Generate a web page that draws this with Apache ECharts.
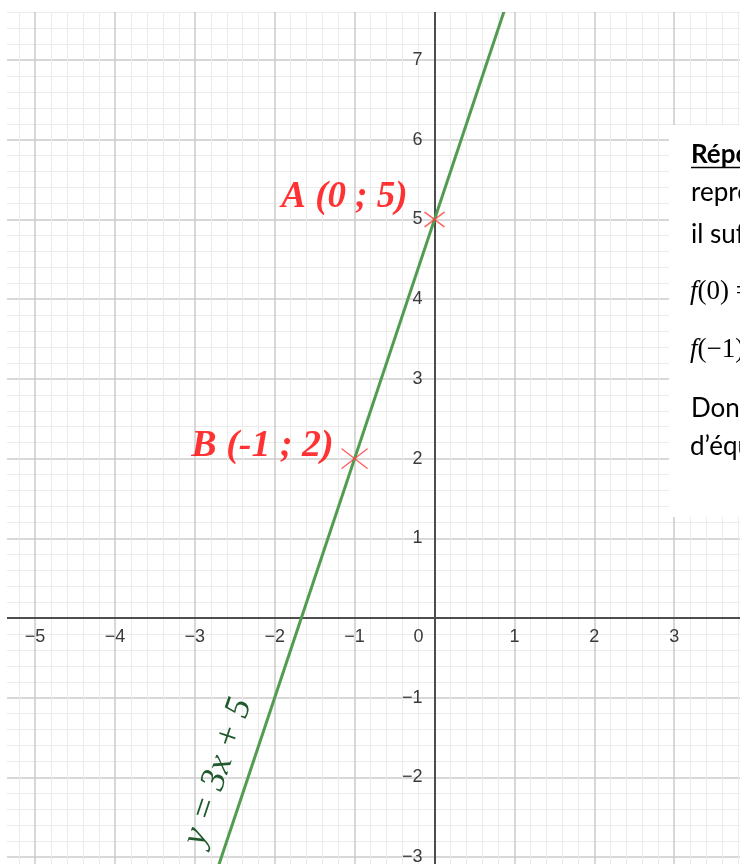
<!DOCTYPE html>
<html>
<head>
<meta charset="utf-8">
<script src="https://cdn.jsdelivr.net/npm/echarts@6/dist/echarts.min.js"></script>
<style>
  html, body { margin: 0; padding: 0; background: #ffffff; }
  #chart { width: 740px; height: 864px; }
</style>
</head>
<body>
<div id="chart"></div>
<script>
// The straight line y = 3x + 5, through two grid crossings
const lineX = [-3, 1];
const lineY = [-4, 8];

// Marked points and their names
const pointLabels = ['A (0 ; 5)', 'B (-1 ; 2)'];
const pointX = [0, -1];
const pointY = [5, 2];

// Equation written along the line
const equationLabel = 'y = 3x + 5';

// Axis ranges, whole units
const xRange = [-6, 4];
const yRange = [-4, 8];

// Text block on the right-hand side
const noteTitle = 'Réponse :';
const noteLines = ['représentation graphique', 'il suffit de vérifier que'];
const noteValues = ['(0) = 5', '(\u22121) = 2'];
const noteEnd = ['Donc', 'd\u2019équation'];

// ---- layout & styles ----
const W = 740, H = 864;
const gridBox = { left: -44.9, right: -14.1, top: -19.6, bottom: -72.8 };
const gridW = W - gridBox.left - gridBox.right;
const gridH = H - gridBox.top - gridBox.bottom;
// move each axis from the grid edge to the other axis' zero
const xAxisShift = -gridH * (0 - yRange[0]) / (yRange[1] - yRange[0]);
const yAxisShift = -gridW * (0 - xRange[0]) / (xRange[1] - xRange[0]);

const red = '#ff0000';
const crossRed = '#ff3b3b';
const green = '#529c52';
const darkGreen = '#1f5a2c';
const majorGrid = '#cbcbcb';
const minorGrid = '#ebebeb';
const axisDark = '#4d4d4d';
const tickColor = '#3a3a3a';
const tickSize = 18;
const crossSizes = [[20, 15], [26, 20]];
const labelFont = [37, 38];
const labelDistance = [14, 5];
const labelOffset = [[0, -22], [0, -12]];

function tickText(v) {
  if (v === 0) return '';
  return v < 0 ? '\u2212' + (-v) : String(v);
}

const chart = echarts.init(document.getElementById('chart'), null, { renderer: 'canvas' });

const axisCommon = {
  type: 'value',
  interval: 1,
  axisTick: { show: false },
  minorTick: { show: false, splitNumber: 5 },
  splitLine: { show: true, lineStyle: { color: majorGrid, width: 1.5 } },
  minorSplitLine: { show: true, lineStyle: { color: minorGrid, width: 1 } },
  axisLine: { show: true, onZero: false, lineStyle: { color: axisDark, width: 2 } }
};

const option = {
  animation: false,
  backgroundColor: '#ffffff',
  grid: Object.assign({ containLabel: false, outerBoundsMode: 'none' }, gridBox),
  xAxis: Object.assign({}, axisCommon, {
    position: 'bottom',
    offset: xAxisShift,
    min: xRange[0], max: xRange[1],
    axisLabel: {
      margin: 10,
      color: tickColor,
      fontFamily: 'Liberation Sans',
      fontSize: tickSize,
      formatter: v => v === 0 ? '{z|0}' : tickText(v),
      rich: { z: { color: tickColor, fontFamily: 'Liberation Sans', fontSize: tickSize, padding: [0, 32, 0, 0] } }
    }
  }),
  yAxis: Object.assign({}, axisCommon, {
    position: 'left',
    offset: yAxisShift,
    min: yRange[0], max: yRange[1],
    axisLabel: {
      margin: 12,
      color: tickColor,
      fontFamily: 'Liberation Sans',
      fontSize: tickSize,
      formatter: v => tickText(v)
    }
  }),
  series: [
    {
      type: 'line',
      data: lineX.map((x, i) => [x, lineY[i]]),
      showSymbol: false,
      lineStyle: { color: green, width: 3 },
      z: 3
    },
    {
      type: 'scatter',
      symbol: 'path://M0,0L10,10M10,0L0,10',
      itemStyle: { color: 'none', borderColor: crossRed, borderWidth: 1.5 },
      data: pointX.map((x, i) => ({
        value: [x, pointY[i]],
        name: pointLabels[i],
        symbolSize: crossSizes[i],
        label: {
          show: true,
          position: 'left',
          distance: labelDistance[i],
          offset: labelOffset[i],
          formatter: '{b}',
          color: red,
          fontFamily: 'Liberation Serif',
          fontStyle: 'italic',
          fontWeight: 'bold',
          fontSize: labelFont[i]
        }
      })),
      z: 4
    }
  ]
};

chart.setOption(option);

// Equation placed alongside the line, rotated to its slope
const p0 = chart.convertToPixel({ gridIndex: 0 }, [lineX[0], lineY[0]]);
const p1 = chart.convertToPixel({ gridIndex: 0 }, [lineX[1], lineY[1]]);
const angle = Math.atan2(p0[1] - p1[1], p1[0] - p0[0]);
const anchorX = -2.31;
const anchorY = lineY[0] + (anchorX - lineX[0]) * (lineY[1] - lineY[0]) / (lineX[1] - lineX[0]);
const anchor = chart.convertToPixel({ gridIndex: 0 }, [anchorX, anchorY]);

const noteFont = '26px Lato';
const noteX = 691;
const mathRich = {
  f: { fill: '#000', font: 'italic 27px "Liberation Serif"' },
  n: { fill: '#000', font: '27px "Liberation Serif"' }
};
const graphics = [
  // white margins round the plotting area
  { type: 'rect', shape: { x: 0, y: 0, width: W, height: 12 }, style: { fill: '#ffffff' }, z: 100 },
  { type: 'rect', shape: { x: 0, y: 0, width: 7, height: H }, style: { fill: '#ffffff' }, z: 100 },
  // text block background
  { type: 'rect', shape: { x: 669, y: 125, width: 71, height: 392 }, style: { fill: '#ffffff' }, z: 100 },
  {
    type: 'text', x: anchor[0] - 32, y: anchor[1], rotation: angle, z: 50,
    style: { text: equationLabel, fill: darkGreen, font: 'italic 36px "Liberation Serif"', align: 'center', verticalAlign: 'middle' }
  },
  { type: 'text', x: noteX, y: 155, z: 101, style: { text: noteTitle, fill: '#000', font: 'bold ' + noteFont, align: 'left', verticalAlign: 'middle' } },
  { type: 'line', shape: { x1: noteX, y1: 167.5, x2: W, y2: 167.5 }, style: { stroke: '#000', lineWidth: 1.5 }, z: 101 },
  { type: 'text', x: noteX, y: 193, z: 101, style: { text: noteLines[0], fill: '#000', font: noteFont, align: 'left', verticalAlign: 'middle' } },
  { type: 'text', x: noteX, y: 235, z: 101, style: { text: noteLines[1], fill: '#000', font: noteFont, align: 'left', verticalAlign: 'middle' } },
  { type: 'text', x: noteX - 1, y: 292, z: 101, style: { text: '{f|f}{n|' + noteValues[0] + '}', align: 'left', verticalAlign: 'middle', rich: mathRich } },
  { type: 'text', x: noteX - 1, y: 350, z: 101, style: { text: '{f|f}{n|' + noteValues[1] + '}', align: 'left', verticalAlign: 'middle', rich: mathRich } },
  { type: 'text', x: noteX, y: 409, z: 101, style: { text: noteEnd[0], fill: '#000', font: noteFont, align: 'left', verticalAlign: 'middle' } },
  { type: 'text', x: noteX - 1, y: 447, z: 101, style: { text: noteEnd[1], fill: '#000', font: noteFont, align: 'left', verticalAlign: 'middle' } }
];

chart.setOption({ graphic: graphics });
</script>
</body>
</html>
